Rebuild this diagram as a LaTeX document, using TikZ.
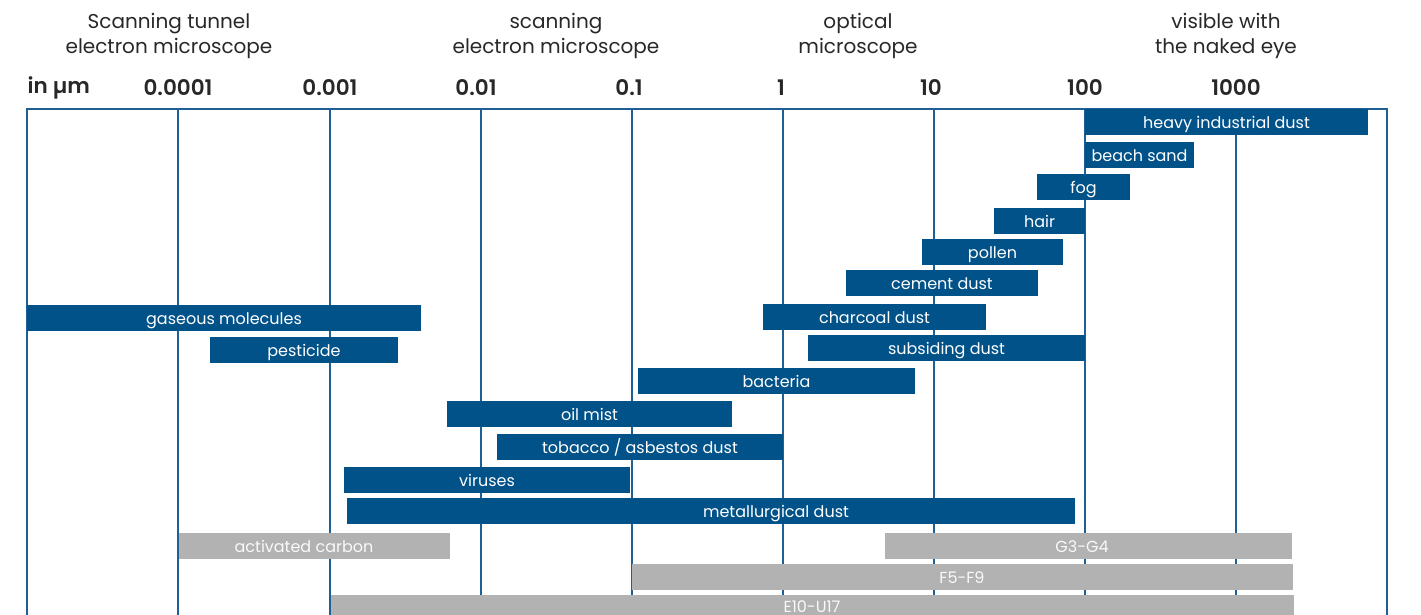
\documentclass[tikz,border=0pt]{standalone}
\usepackage{fontspec}
\setmainfont{Poppins}[BoldFont={Poppins SemiBold}]
\definecolor{barblue}{RGB}{0,82,137}
\definecolor{gridblue}{RGB}{30,95,150}
\definecolor{bargray}{RGB}{178,178,178}
\definecolor{txt}{RGB}{40,40,40}
\tikzset{
  lbl/.style={inner sep=0pt, text height=12.5pt, text depth=0pt, font=\fontsize{16}{16}\selectfont},
  barbase/.style={lbl, minimum height=26pt},
  bar/.style={barbase, fill=barblue, text=white},
  gbar/.style={barbase, fill=bargray, text=white!95!gray},
  glbl/.style={lbl, text=white!95!gray},
  blbl/.style={lbl, text=white},
  head/.style={text=txt, align=center, font=\fontsize{20}{25}\selectfont},
  tick/.style={text=txt, font=\bfseries\fontsize{21.5}{21.5}\selectfont},
  grid/.style={draw=gridblue, line width=2.4pt}
}
\begin{document}
\begin{tikzpicture}[x=1pt,y=-1pt]
\useasboundingbox (0,0) rectangle (1421,615);
\fill[white] (0,0) rectangle (1421,615);
% headers
\node[head] (h1) at (169,36) {Scanning tunnel\\electron microscope};
\node[head] (h2) at (556,36) {scanning\\electron microscope};
\node[head] (h3) at (858,36) {optical\\microscope};
\node[head] (h4) at (1226,36) {visible with\\the naked eye};
% tick labels
\node[tick, anchor=west] (unit) at (24,88) {in \textmu m};
\node[tick] (t1) at (178,88) {0.0001};
\node[tick] (t2) at (330,88) {0.001};
\node[tick] (t3) at (476,88) {0.01};
\node[tick] (t4) at (629,88) {0.1};
\node[tick] (t5) at (781,88) {1};
\node[tick] (t6) at (931,88) {10};
\node[tick] (t7) at (1085,88) {100};
\node[tick] (t8) at (1236,88) {1000};
% grid
\coordinate (tl) at (27,109);
\coordinate (tr) at (1387,109);
\draw[grid] (27,620) -- (tl) -- (tr) -- (1387,620);
\foreach \x in {178,330,481,632,783,934,1085,1236}
  \draw[grid] (\x,109) -- (\x,620);
% bars: style, name, left, right, y, text
\newcommand{\barat}[6]{\node[#1, minimum width={#4-#3}] (#2) at ({(#3+#4)/2},#5) {#6};}
\barat{bar}{b1}{1085}{1368}{122}{heavy industrial dust}
\barat{bar}{b2}{1085}{1194}{155}{beach sand}
\barat{bar}{b3}{1037}{1130}{187}{fog}
\barat{bar}{b4}{994}{1085}{221}{hair}
\barat{bar}{b5}{922}{1063}{252}{pollen}
\barat{bar}{b6}{846}{1038}{283}{cement dust}
\barat{bar}{b7}{27}{421}{318}{gaseous molecules}
\barat{bar}{b8}{763}{986}{317}{charcoal dust}
\barat{bar}{b9}{210}{398}{350}{pesticide}
\barat{bar}{b10}{808}{1085}{348}{subsiding dust}
\barat{bar}{b11}{638}{915}{381}{bacteria}
\barat{bar}{b12}{447}{732}{414}{oil mist}
\barat{bar}{b13}{497}{783}{447}{tobacco / asbestos dust}
\barat{bar}{b14}{344}{630}{480}{viruses}
\barat{bar}{b15}{347}{1075}{511}{}
\node[blbl] (l15) at (776,511) {metallurgical dust};
% gray bars
\barat{gbar}{g1}{179}{450}{546}{}
\node[glbl] (lg1) at (304,546) {activated carbon};
\barat{gbar}{g2}{885}{1292}{546}{}
\node[glbl] (lg2) at (1082,546) {G3-G4};
\barat{gbar}{g3}{632}{1293}{577}{}
\node[glbl] (lg3) at (962,577) {F5-F9};
\barat{gbar}{g4}{331}{1294}{608}{}
\node[glbl] (lg4) at (812,606) {E10-U17};
\end{tikzpicture}
\end{document}
